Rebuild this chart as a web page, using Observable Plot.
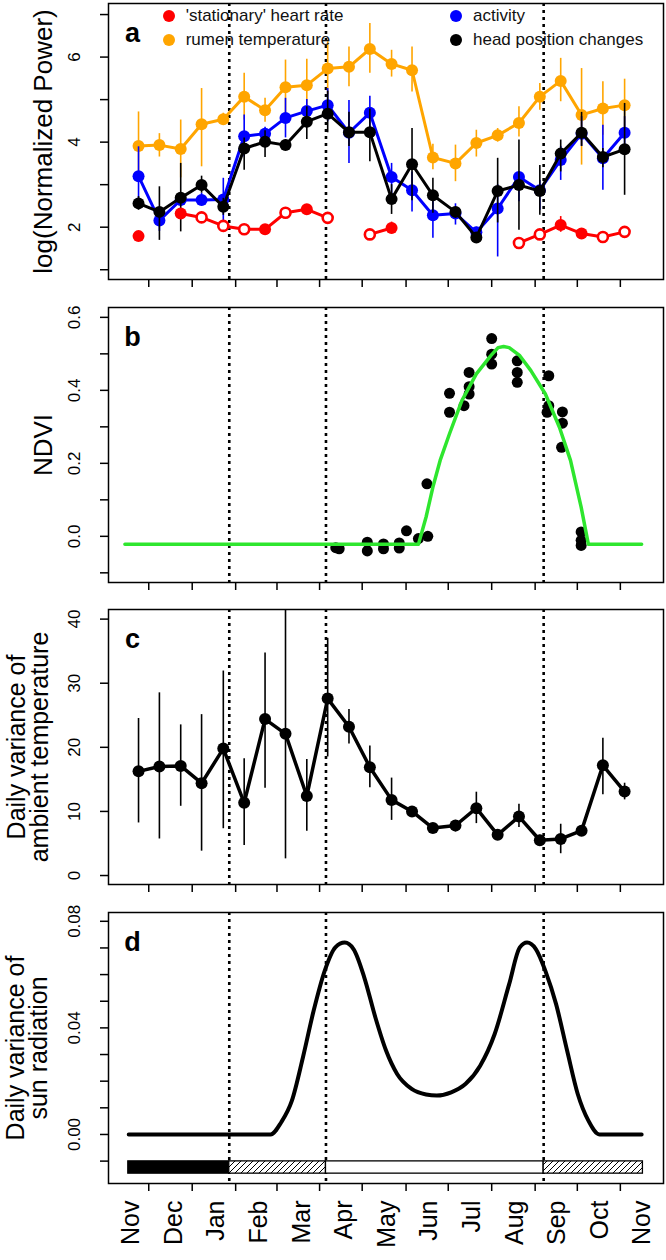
<!DOCTYPE html>
<html>
<head>
<meta charset="utf-8">
<script src="https://cdn.jsdelivr.net/npm/d3@7"></script>
<script src="https://cdn.jsdelivr.net/npm/@observablehq/plot@0.6"></script>
<style>
  body { margin: 0; background: #fff; }
  #wrap { position: relative; width: 666px; height: 1260px; overflow: hidden; font-family: "Liberation Sans", Arial, Helvetica, sans-serif; }
  .lg-dot { position: absolute; width: 12px; height: 12px; border-radius: 50%; }
  .lg-txt { position: absolute; font-size: 17px; line-height: 20px; color: #111; white-space: nowrap; }
</style>
</head>
<body>
<div id="wrap"></div>
<script>
// ---------------- DATA ----------------
// x positions are in "months since 1 Nov" (0 = Nov, 12 = next Nov)
const monthLabels = ["Nov","Dec","Jan","Feb","Mar","Apr","May","Jun","Jul","Aug","Sep","Oct","Nov"];
const monthStarts = [0,1,2,3,4,5,6,7,8,9,10,11,12];
const monthTicks = [0.41,1.43,2.45,3.42,4.42,5.42,6.45,7.44,8.46,9.48,10.47,11.48];
const phaseBreaks = [2.30, 4.57, 9.68];

// semi-monthly sample positions (panels a and c)
const sampleX = [0.17,0.66,1.16,1.65,2.16,2.65,3.14,3.62,4.12,4.61,5.11,5.60,6.11,6.59,7.08,7.61,8.10,8.60,9.10,9.59,10.08,10.57,11.07,11.58];

// panel a: log(normalized power)
const rumen   = [3.91,3.93,3.84,4.42,4.54,5.07,4.75,5.29,5.34,5.73,5.77,6.19,5.84,5.69,3.64,3.50,3.98,4.16,4.45,5.07,5.44,4.64,4.79,4.87];
const rumenLo = [3.11,3.65,3.16,3.42,4.40,4.52,4.47,4.68,4.73,5.11,5.30,5.62,5.53,5.18,3.35,3.07,3.65,4.00,4.12,4.75,4.95,3.46,4.16,4.28];
const rumenHi = [4.71,4.20,4.52,5.26,4.68,5.62,5.03,5.93,5.95,6.36,6.24,6.79,6.16,6.24,3.95,3.93,4.28,4.32,4.83,5.38,5.97,5.73,5.42,5.48];

const activity   = [3.20,2.16,2.64,2.64,2.65,4.14,4.20,4.57,4.73,4.87,4.22,4.69,3.18,2.87,2.28,2.32,1.88,2.44,3.18,2.87,3.58,4.20,3.62,4.22];
const activityLo = [2.56,1.90,2.50,2.50,2.15,3.65,4.05,4.10,4.45,4.48,3.50,4.30,2.60,2.36,1.74,2.05,1.75,1.30,2.60,2.40,3.10,3.90,2.87,3.85];
const activityHi = [3.89,2.45,2.80,2.80,3.15,4.64,4.35,5.03,5.00,5.26,4.98,5.08,3.50,3.30,2.85,2.55,2.00,3.00,3.30,3.10,3.90,4.60,4.40,4.60];

const head   = [2.56,2.36,2.69,2.99,2.48,3.85,4.01,3.93,4.48,4.67,4.23,4.23,2.66,3.48,2.75,2.36,1.76,2.85,2.99,2.85,3.73,4.22,3.65,3.83];
const headLo = [2.40,1.69,1.89,2.80,2.28,3.34,3.64,3.80,4.06,4.22,3.90,3.54,2.30,2.62,2.33,2.25,1.65,2.10,1.93,2.28,3.30,3.90,3.40,2.75];
const headHi = [2.72,2.95,3.50,3.20,2.68,4.10,4.27,4.06,4.83,5.20,4.70,4.78,3.00,4.32,3.15,2.47,1.87,3.62,4.05,3.45,4.05,4.70,3.85,4.91];

const heart   = [1.79,null,2.32,2.23,2.03,1.95,1.95,2.34,2.42,2.22,null,1.83,1.98,null,null,null,null,null,1.63,1.83,2.05,1.85,1.77,1.89];
const heartLo = [1.72,null,2.20,2.18,1.98,1.90,1.88,2.29,2.35,2.17,null,1.78,1.84,null,null,null,null,null,1.58,1.78,1.88,1.80,1.72,1.84];
const heartHi = [1.86,null,2.44,2.28,2.08,2.00,2.02,2.39,2.49,2.27,null,1.88,2.12,null,null,null,null,null,1.68,1.88,2.25,1.90,1.82,1.94];
const heartSignificant = [true,false,true,false,false,false,true,false,true,false,false,false,true,false,false,false,false,false,false,false,true,true,false,false];

// panel b: NDVI observations and fitted curve
const ndviX = [4.80,4.88,5.54,5.54,5.92,5.92,6.29,6.29,6.46,6.74,6.96,6.94,7.47,7.47,7.81,7.93,7.93,7.93,8.46,8.46,8.46,9.06,9.06,9.06,9.80,9.80,9.76,10.12,10.12,10.10,10.56,10.56,10.56];
const ndviY = [-0.031,-0.034,-0.016,-0.040,-0.021,-0.034,-0.018,-0.032,0.015,-0.006,0.000,0.144,0.392,0.340,0.358,0.449,0.410,0.390,0.542,0.499,0.472,0.481,0.449,0.422,0.440,0.358,0.340,0.341,0.310,0.244,0.012,-0.011,-0.025];
const ndviFitX = [-0.15,6.74,6.92,7.08,7.25,7.47,7.76,8.10,8.44,8.61,8.74,8.87,9.12,9.38,9.72,10.05,10.31,10.56,10.73,11.98];
const ndviFitY = [-0.022,-0.022,0.053,0.135,0.208,0.281,0.372,0.445,0.495,0.517,0.520,0.517,0.495,0.454,0.390,0.299,0.208,0.080,-0.022,-0.022];

// panel c: daily variance of ambient temperature
const tempVar   = [16.25,17.0,17.1,14.4,19.8,11.35,24.4,22.1,12.4,27.6,23.2,16.9,11.8,10.0,7.4,7.8,10.5,6.35,9.2,5.5,5.7,7.0,17.2,13.1];
const tempVarLo = [8.2,5.7,10.8,3.8,7.3,4.7,13.6,2.6,6.9,18.5,20.5,13.7,8.6,9.4,6.8,6.8,8.1,5.6,7.5,4.7,3.4,6.5,12.6,11.8];
const tempVarHi = [24.5,28.5,23.5,25.1,31.9,18.2,34.7,42.0,18.1,37.0,25.9,20.2,15.2,10.6,8.0,8.6,13.0,7.0,11.1,6.3,8.0,7.5,21.4,14.4];

// panel d: daily variance of sun radiation
const sunX = [-0.06,3.27,3.52,3.77,4.03,4.28,4.54,4.79,5.01,5.22,5.47,5.73,5.98,6.24,6.58,6.92,7.17,7.51,7.85,8.19,8.53,8.87,9.12,9.29,9.50,9.72,9.97,10.23,10.48,10.73,10.99,11.98];
const sunY = [0,0,0.0046,0.0127,0.029,0.0464,0.0614,0.0702,0.072,0.0695,0.0589,0.0439,0.0315,0.0227,0.0171,0.015,0.0146,0.0158,0.019,0.0258,0.0377,0.0564,0.0702,0.072,0.0695,0.0614,0.049,0.0315,0.0152,0.0052,0,0];

// season bar (panel d)
const seasonStart = [-0.07, 2.30, 4.57, 9.68];
const seasonEnd   = [2.30, 4.57, 9.68, 12.01];
const seasonKind  = ["winter","transition","summer","transition"];
const seasonBarTop = -0.0101, seasonBarBottom = -0.0147;

// legend
const legendNames  = ["'stationary' heart rate","rumen temperature","activity","head position changes"];
const legendColors = ["#ff0000","#ffa500","#0000ff","#000000"];

// ---------------- BUILD ----------------
const FONT = "'Liberation Sans', Arial, Helvetica, sans-serif";
const W = 666;
const xDomain = [-0.535, 12.493];
const wrap = document.getElementById("wrap");

const rows = sampleX.map((x, i) => ({
  x, rumen: rumen[i], rumenLo: rumenLo[i], rumenHi: rumenHi[i],
  act: activity[i], actLo: activityLo[i], actHi: activityHi[i],
  head: head[i], headLo: headLo[i], headHi: headHi[i],
  heart: heart[i], heartLo: heartLo[i], heartHi: heartHi[i], sig: heartSignificant[i],
  temp: tempVar[i], tempLo: tempVarLo[i], tempHi: tempVarHi[i]
}));
const ndvi = ndviX.map((x, i) => ({x, y: ndviY[i]}));
const ndviFit = ndviFitX.map((x, i) => ({x, y: ndviFitY[i]}));
const sun = sunX.map((x, i) => ({x, y: sunY[i]}));
const seasons = seasonStart.map((s, i) => ({x1: s, x2: seasonEnd[i], kind: seasonKind[i]}));
const months = monthStarts.map((m, i) => ({m, label: monthLabels[i]}));

function makePanel(cfg) {
  const titleMarks = cfg.titles.map(t =>
    Plot.text([t.text], {frameAnchor: "left", dx: t.dx, rotate: -90, textAnchor: "middle", lineAnchor: "middle", fontSize: t.size, fill: "black"}));
  const plot = Plot.plot({
    width: W, height: cfg.height,
    marginLeft: 108, marginRight: 3, marginTop: cfg.marginTop, marginBottom: cfg.marginBottom,
    style: {fontFamily: FONT, background: "transparent", color: "black", overflow: "visible"},
    x: {domain: xDomain, ticks: monthTicks, tickFormat: () => "", tickSize: 8, label: null},
    y: {domain: cfg.yDomain, ticks: cfg.yTicks, tickFormat: () => "", tickSize: 8, label: null},
    marks: [
      Plot.ruleX(phaseBreaks, {stroke: "black", strokeWidth: 2.6, strokeDasharray: "3,4"}),
      ...cfg.marks,
      Plot.frame({stroke: "black", strokeWidth: 1.5}),
      Plot.text(cfg.yLabels, {y: d => d, text: cfg.yFmt, frameAnchor: "left", dx: -34, rotate: -90, textAnchor: "middle", lineAnchor: "middle", fontSize: 17, fill: "black"}),
      Plot.text([cfg.letter], {frameAnchor: "top-left", dx: 24, dy: 30, textAnchor: "middle", lineAnchor: "middle", fontSize: 27, fontWeight: "bold", fill: "black"}),
      ...titleMarks,
      ...(cfg.extra || [])
    ]
  });
  plot.style.position = "absolute";
  plot.style.left = "0px";
  plot.style.top = cfg.top + "px";
  d3.select(plot).selectAll("[aria-label$='tick'] path").attr("stroke-width", 1.5);
  wrap.appendChild(plot);
  return plot;
}

function series(y, lo, hi, color, r = 6) {
  return [
    Plot.ruleX(rows, {x: "x", y1: lo, y2: hi, stroke: color, strokeWidth: 1.6}),
    Plot.line(rows, {x: "x", y: y, stroke: color, strokeWidth: 3}),
    Plot.dot(rows, {x: "x", y: y, fill: color, r})
  ];
}

// Panel a
makePanel({
  top: 0, height: 306, marginTop: 3, marginBottom: 27,
  yDomain: [0.77, 7.26], yTicks: [1,2,3,4,5,6,7], yLabels: [2,4,6], yFmt: d => String(d),
  letter: "a",
  titles: [{text: "log(Normalized Power)", dx: -65, size: 26}],
  marks: [
    ...series("rumen", "rumenLo", "rumenHi", "#ffa500"),
    ...series("act", "actLo", "actHi", "#0000ff"),
    ...series("head", "headLo", "headHi", "#000000"),
    Plot.ruleX(rows.filter(d => d.heart != null), {x: "x", y1: "heartLo", y2: "heartHi", stroke: "#ff0000", strokeWidth: 1.6}),
    Plot.line(rows, {x: "x", y: "heart", stroke: "#ff0000", strokeWidth: 3}),
    Plot.dot(rows.filter(d => d.heart != null && d.sig), {x: "x", y: "heart", fill: "#ff0000", r: 6}),
    Plot.dot(rows.filter(d => d.heart != null && !d.sig), {x: "x", y: "heart", fill: "white", stroke: "#ff0000", strokeWidth: 2.6, r: 5})
  ]
});

// Panel b
makePanel({
  top: 306, height: 301, marginTop: 1, marginBottom: 25,
  yDomain: [-0.1265, 0.627], yTicks: [-0.1,0,0.1,0.2,0.3,0.4,0.5,0.6], yLabels: [0,0.2,0.4,0.6], yFmt: d => d.toFixed(1),
  letter: "b",
  titles: [{text: "NDVI", dx: -65, size: 26}],
  marks: [
    Plot.dot(ndvi, {x: "x", y: "y", fill: "black", r: 5.5}),
    Plot.line(ndviFit, {x: "x", y: "y", stroke: "#2ee62e", strokeWidth: 3.5})
  ]
});

// Panel c
makePanel({
  top: 607, height: 304, marginTop: 2, marginBottom: 27,
  yDomain: [-1.4, 41.5], yTicks: [0,10,20,30,40], yLabels: [0,10,20,30,40], yFmt: d => String(d),
  letter: "c",
  titles: [{text: "Daily variance of", dx: -92, size: 25}, {text: "ambient temperature", dx: -69, size: 25}],
  marks: [
    Plot.ruleX(rows, {x: "x", y1: "tempLo", y2: d => Math.min(d.tempHi, 41.5), stroke: "black", strokeWidth: 1.6}),
    Plot.line(rows, {x: "x", y: "temp", stroke: "black", strokeWidth: 3.5}),
    Plot.dot(rows, {x: "x", y: "temp", fill: "black", r: 6})
  ]
});

// Panel d
const fillFor = {winter: "black", transition: "url(#hatch)", summer: "white"};
const pd = makePanel({
  top: 910, height: 350, marginTop: 2, marginBottom: 77,
  yDomain: [-0.0184, 0.0833], yTicks: [-0.01,0,0.01,0.02,0.03,0.04,0.05,0.06,0.07,0.08], yLabels: [0,0.04,0.08], yFmt: d => d.toFixed(2),
  letter: "d",
  titles: [{text: "Daily variance of", dx: -93, size: 25}, {text: "sun radiation", dx: -70, size: 25}],
  marks: [
    Plot.line(sun, {x: "x", y: "y", stroke: "black", strokeWidth: 4, curve: "monotone-x"}),
    ...seasonKind.map((k, i) => Plot.rect([seasons[i]], {x1: "x1", x2: "x2", y1: seasonBarBottom, y2: seasonBarTop, fill: fillFor[k], stroke: "black", strokeWidth: 1.3}))
  ],
  extra: [
    Plot.text(months, {x: "m", text: "label", frameAnchor: "bottom", dy: 17, rotate: -90, textAnchor: "end", lineAnchor: "middle", fontSize: 25, fill: "black"})
  ]
});

// hatch pattern definition
const defs = d3.select(pd).insert("defs", ":first-child");
const pat = defs.append("pattern").attr("id", "hatch").attr("patternUnits", "userSpaceOnUse").attr("width", 6).attr("height", 6);
pat.append("rect").attr("width", 6).attr("height", 6).attr("fill", "white");
pat.append("path").attr("d", "M-1,7 L7,-1 M-1,1 L1,-1 M5,7 L7,5").attr("stroke", "black").attr("stroke-width", 1);

// legend (inside panel a)
const legendPos = [[168.7, 16], [168.7, 40], [456, 16], [456, 40]];
legendNames.forEach((name, i) => {
  const [cx, cy] = legendPos[i];
  const dot = document.createElement("div");
  dot.className = "lg-dot";
  dot.style.left = (cx - 6) + "px"; dot.style.top = (cy - 6) + "px";
  dot.style.background = legendColors[i];
  wrap.appendChild(dot);
  const t = document.createElement("div");
  t.className = "lg-txt";
  t.textContent = name;
  t.style.left = (cx + 17) + "px"; t.style.top = (cy - 10) + "px";
  wrap.appendChild(t);
});
</script>
</body>
</html>
